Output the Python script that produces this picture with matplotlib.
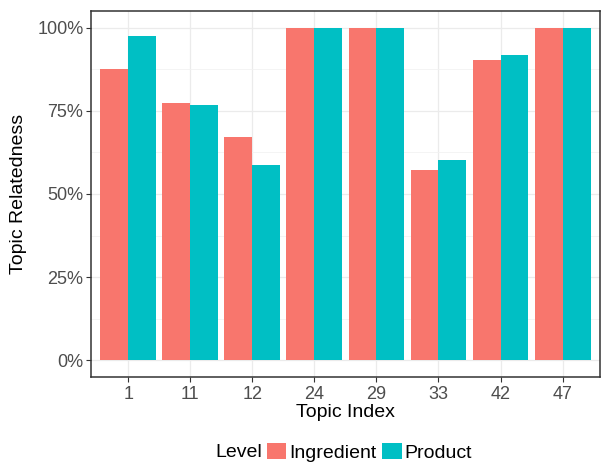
import numpy as np
import matplotlib.pyplot as plt
from matplotlib.patches import Patch
from matplotlib.ticker import FixedLocator, PercentFormatter

plt.rcParams['font.family'] = ['Liberation Sans', 'DejaVu Sans']

topics = ["1", "11", "12", "24", "29", "33", "42", "47"]
ingredient = [0.876, 0.773, 0.671, 1.0, 1.0, 0.571, 0.903, 1.0]
product = [0.976, 0.767, 0.588, 1.0, 1.0, 0.602, 0.917, 1.0]
levels = ["Ingredient", "Product"]
colors = ["#F8766D", "#00BFC4"]

fig = plt.figure(figsize=(6.13, 4.76), dpi=100)
ax = fig.add_axes([0.1485, 0.208, 0.830, 0.769])

x = np.arange(len(topics))
w = 0.45
ax.bar(x - w / 2, ingredient, width=w, color=colors[0], zorder=3)
ax.bar(x + w / 2, product, width=w, color=colors[1], zorder=3)

ax.set_xlim(-0.6, len(topics) - 0.4)
ax.set_ylim(-0.05, 1.05)
ax.set_xticks(x)
ax.set_xticklabels(topics)
ax.set_yticks([0, 0.25, 0.5, 0.75, 1.0])
ax.yaxis.set_major_formatter(PercentFormatter(1.0, decimals=0))
ax.yaxis.set_minor_locator(FixedLocator([0.125, 0.375, 0.625, 0.875]))

ax.grid(which='major', color='#ebebeb', linewidth=0.9, zorder=0)
ax.grid(which='minor', axis='y', color='#f2f2f2', linewidth=0.6, zorder=0)
ax.tick_params(which='minor', length=0)
ax.tick_params(which='major', length=3.5, color='#333333', width=0.8,
               labelsize=13, labelcolor='#4d4d4d')
ax.tick_params(axis='x', pad=3)
ax.tick_params(axis='y', pad=2)
for s in ax.spines.values():
    s.set_color('#333333')
    s.set_linewidth(1.1)

ax.set_xlabel("Topic Index", fontsize=14)
ax.set_ylabel("Topic Relatedness", fontsize=14)
ax.xaxis.set_label_coords(0.5, -0.075)
ax.yaxis.set_label_coords(-0.143, 0.5)
ax.yaxis.label.set_va('center')

handles = [Patch(facecolor=c, edgecolor='none') for c in colors]
fig.text(215 / 613, 0.05, "Level", fontsize=14, ha='left', va='center')
fig.legend(handles, levels, loc='center left', bbox_to_anchor=(267 / 613, 0.05),
           ncol=2, frameon=False, fontsize=14, handlelength=1.0,
           handleheight=0.9, handletextpad=0.13, columnspacing=0.3,
           borderaxespad=0, borderpad=0)

fig.savefig("out.png", dpi=100)
